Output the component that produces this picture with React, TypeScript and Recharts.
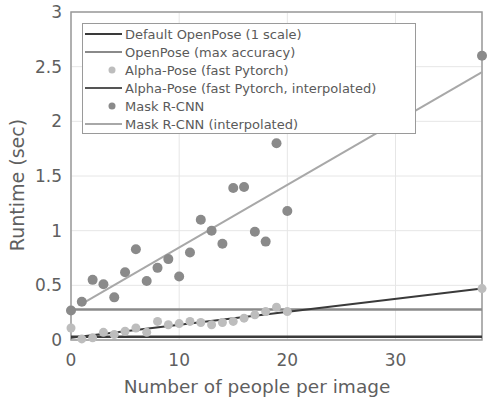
import {
  ComposedChart,
  Line,
  Scatter,
  XAxis,
  YAxis,
  CartesianGrid,
  ReferenceArea,
  Legend,
} from "recharts";

// number of people per image
const peopleCounts = [0, 1, 2, 3, 4, 5, 6, 7, 8, 9, 10, 11, 12, 13, 14, 15, 16, 17, 18, 19, 20, 38];

// runtimes (sec)
const alphaPoseRuntime = [
  0.11, 0.01, 0.02, 0.07, 0.05, 0.08, 0.11, 0.07, 0.17, 0.14, 0.15, 0.17, 0.16, 0.14, 0.16, 0.17,
  0.2, 0.23, 0.26, 0.3, 0.26, 0.47,
];
const maskRcnnRuntime = [
  0.27, 0.35, 0.55, 0.51, 0.39, 0.62, 0.83, 0.54, 0.66, 0.74, 0.58, 0.8, 1.1, 1.0, 0.88, 1.39,
  1.4, 0.99, 0.9, 1.8, 1.18, 2.6,
];

// flat baselines
const openPoseRange = [0, 38];
const defaultOpenPoseRuntime = [0.03, 0.03];
const openPoseMaxRuntime = [0.28, 0.28];

// interpolated fits (end points)
const alphaPoseFitX = [0, 38];
const alphaPoseFitY = [0.02, 0.47];
const maskRcnnFitX = [1, 38];
const maskRcnnFitY = [0.33, 2.45];

const xTicks = [0, 10, 20, 30];
const yTicks = [0, 0.5, 1, 1.5, 2, 2.5, 3];

const zip = (xs: number[], ys: number[]) => xs.map((x, i) => ({ x, y: ys[i] }));

const alphaPoints = zip(peopleCounts, alphaPoseRuntime);
const maskPoints = zip(peopleCounts, maskRcnnRuntime);
const defaultLine = zip(openPoseRange, defaultOpenPoseRuntime);
const maxLine = zip(openPoseRange, openPoseMaxRuntime);
const alphaFit = zip(alphaPoseFitX, alphaPoseFitY);
const maskFit = zip(maskRcnnFitX, maskRcnnFitY);

const FONT = "DejaVu Sans";

const legendItems = [
  { label: "Default OpenPose (1 scale)", kind: "line", color: "#3a3a3a" },
  { label: "OpenPose (max accuracy)", kind: "line", color: "#8a8a8a" },
  { label: "Alpha-Pose (fast Pytorch)", kind: "dot", color: "#bdbdbd" },
  { label: "Alpha-Pose (fast Pytorch, interpolated)", kind: "line", color: "#555" },
  { label: "Mask R-CNN", kind: "dot", color: "#8a8a8a" },
  { label: "Mask R-CNN (interpolated)", kind: "line", color: "#a8a8a8" },
];

function LegendBox() {
  return (
    <div
      style={{
        border: "1px solid #9a9a9a",
        background: "#fff",
        paddingTop: 1,
        width: 334,
        boxSizing: "border-box",
        fontFamily: FONT,
        fontSize: 13,
        color: "#5a5a5a",
      }}
    >
      {legendItems.map((item) => (
        <div key={item.label} style={{ display: "flex", alignItems: "center", height: 18 }}>
          <svg width={42} height={18} style={{ flex: "none" }}>
            {item.kind === "line" ? (
              <line x1={2} x2={39} y1={9} y2={9} stroke={item.color} strokeWidth={2} />
            ) : (
              <circle cx={29} cy={9} r={3.5} fill={item.color} />
            )}
          </svg>
          <span style={{ whiteSpace: "nowrap" }}>{item.label}</span>
        </div>
      ))}
    </div>
  );
}

export default function App() {
  return (
    <div style={{ position: "absolute", left: 0, top: 0 }}>
      <ComposedChart width={490} height={398} margin={{ top: 12, right: 8, bottom: 0, left: 0 }}>
        <CartesianGrid stroke="#e6e6e6" />
        <XAxis
          dataKey="x"
          type="number"
          domain={[0, 38]}
          ticks={xTicks}
          height={58}
          axisLine={false}
          tickLine={false}
          tickSize={12}
          tickMargin={2}
          tick={{ fill: "#5f5f5f", fontSize: 17, fontFamily: FONT }}
          label={{
            content: () => (
              <text x={257} y={393} textAnchor="middle" fill="#5f5f5f" fontSize={18.5} fontFamily={FONT}>
                Number of people per image
              </text>
            ),
          }}
        />
        <YAxis
          dataKey="y"
          type="number"
          domain={[0, 3]}
          ticks={yTicks}
          width={71}
          axisLine={false}
          tickLine={false}
          tickSize={7}
          tickMargin={2}
          tick={{ fill: "#5f5f5f", fontSize: 17, fontFamily: FONT }}
          label={{
            content: () => (
              <text
                x={24}
                y={185}
                transform="rotate(-90 24 185)"
                textAnchor="middle"
                fill="#5f5f5f"
                fontSize={19}
                fontFamily={FONT}
              >
                Runtime (sec)
              </text>
            ),
          }}
        />
        <ReferenceArea x1={0} x2={38} y1={0} y2={3} fill="none" stroke="#9a9a9a" strokeWidth={1.5} />
        <Line data={defaultLine} dataKey="y" stroke="#3a3a3a" strokeWidth={2.5} dot={false} isAnimationActive={false} />
        <Line data={maxLine} dataKey="y" stroke="#8a8a8a" strokeWidth={2.5} dot={false} isAnimationActive={false} />
        <Scatter data={alphaPoints} dataKey="y" fill="#bdbdbd" isAnimationActive={false}
          shape={(p: any) => <circle cx={p.cx} cy={p.cy} r={4.5} fill="#bdbdbd" />} />
        <Line data={alphaFit} dataKey="y" stroke="#3a3a3a" strokeWidth={2} dot={false} isAnimationActive={false} />
        <Scatter data={maskPoints} dataKey="y" fill="#8a8a8a" isAnimationActive={false}
          shape={(p: any) => <circle cx={p.cx} cy={p.cy} r={5} fill="#8a8a8a" />} />
        <Line data={maskFit} dataKey="y" stroke="#a8a8a8" strokeWidth={2} dot={false} isAnimationActive={false} />
        <Legend
          layout="vertical"
          align="center"
          verticalAlign="middle"
          content={() => <LegendBox />}
          wrapperStyle={{ left: 82, top: 23, width: 334 }}
        />
      </ComposedChart>
    </div>
  );
}
